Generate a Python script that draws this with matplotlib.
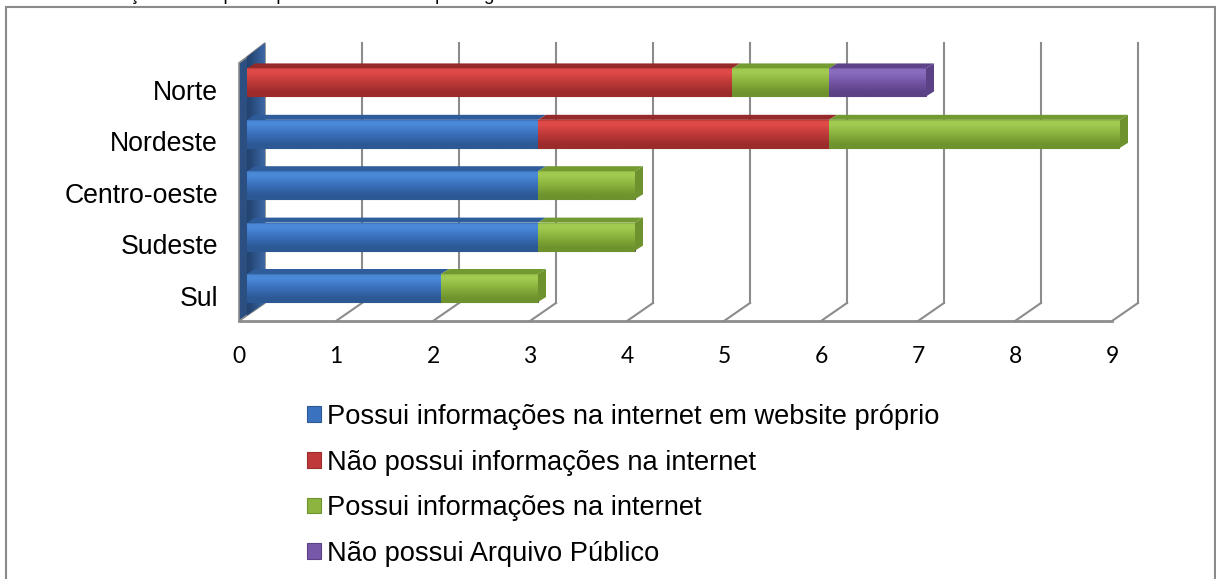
import numpy as np
import matplotlib
matplotlib.use('Agg')
import matplotlib.pyplot as plt
import matplotlib.transforms as mtransforms
from matplotlib.colors import LinearSegmentedColormap
from matplotlib.patches import Polygon, Rectangle

# dados (de baixo para cima)
regioes = ['Sul', 'Sudeste', 'Centro-oeste', 'Nordeste', 'Norte']
website_proprio = [2, 3, 3, 3, 0]
sem_informacoes = [0, 0, 0, 3, 5]
com_informacoes = [1, 1, 1, 3, 1]
sem_arquivo = [0, 0, 0, 0, 1]
series_nomes = ['Possui informações na internet em website próprio',
                'Não possui informações na internet',
                'Possui informações na internet',
                'Não possui Arquivo Público']
xticks = list(range(10))
titulo = 'Gráfico 1 - Situação dos arquivos públicos estaduais por região'

# cores: (base, escuro, medio, claro, topo)
cores = [
    ('#3b72bf', '#2c5894', '#3a71bd', '#4a8ad9', '#2f5d9c'),
    ('#c0393a', '#9c2c2c', '#c03a39', '#e04b49', '#962a2a'),
    ('#8cb43f', '#6e922d', '#8ab33d', '#a2cb52', '#729a30'),
    ('#7657a8', '#5b4186', '#7556a6', '#8b6dc0', '#5d4489'),
]

W, H = 1216, 579
fig = plt.figure(figsize=(W / 100, H / 100), dpi=100)
ax = fig.add_axes([247 / W, 1 - 321 / H, 873 / W, 278 / H])

YMIN, YMAX = -0.642, 4.767
BAR_H = 0.545
DDX, DDY = 8 / 97.0, 5 / 51.4      # profundidade das barras
FX, BX = -8 / 97.0, 18 / 97.0       # frente / fundo
Y_BACK = 18 / 278.0
Y_WALL = 1 - 20 / 278.0
GRID = '#8c8c8c'
FONTE = 19.2

trans = mtransforms.blended_transform_factory(ax.transData, ax.transAxes)

# parede lateral
parede = Polygon([(FX, 0), (FX, Y_WALL), (BX, 1.0), (BX, Y_BACK)], closed=True,
                 transform=trans, facecolor='#2b4f80', edgecolor='#8a8a8a',
                 lw=1.2, zorder=1, clip_on=False)
ax.add_patch(parede)
gw = np.linspace(0, 1, 64).reshape(1, -1)
cm_wall = LinearSegmentedColormap.from_list('w', ['#1e375c', '#274a7a', '#3d69a6'])
im = ax.imshow(gw, extent=[FX, BX, YMIN, YMAX], cmap=cm_wall, aspect='auto',
               origin='lower', zorder=1.1, interpolation='bicubic')
im.set_clip_path(parede)

# grade do fundo e chao
for i in xticks[1:]:
    ax.plot([i + BX, i + BX], [Y_BACK, 1.0], transform=trans, color=GRID, lw=1.5,
            zorder=0.5, clip_on=False)
    ax.plot([i + FX, i + BX], [0, Y_BACK], transform=trans, color=GRID, lw=1.5,
            zorder=0.5, clip_on=False)
ax.plot([FX, 9 + FX], [0, 0], transform=trans, color=GRID, lw=2, zorder=0.6, clip_on=False)

# barras empilhadas
y = np.arange(len(regioes))
valores = [website_proprio, sem_informacoes, com_informacoes, sem_arquivo]
esquerda = np.zeros(len(regioes))
grad = np.linspace(0, 1, 64).reshape(-1, 1)
ultima_cor = [None] * len(regioes)
for vals, nome, c in zip(valores, series_nomes, cores):
    vals = np.array(vals, dtype=float)
    cmap = LinearSegmentedColormap.from_list(
        nome, [(0, c[1]), (0.12, c[1]), (0.5, c[2]), (0.82, c[3]), (0.93, c[3]), (1, c[4])])
    barras = ax.barh(y, vals, left=esquerda, height=BAR_H, color=c[0],
                     edgecolor=c[1], linewidth=0.8, label=nome, zorder=3)
    for k, p in enumerate(barras.patches):
        if vals[k] <= 0:
            continue
        x0, x1 = esquerda[k], esquerda[k] + vals[k]
        y0, y1 = y[k] - BAR_H / 2, y[k] + BAR_H / 2
        g = ax.imshow(grad, extent=[x0, x1, y0, y1], cmap=cmap, aspect='auto',
                      origin='lower', zorder=3.2, interpolation='bicubic')
        g.set_clip_path(p)
        topo = Polygon([(x0, y1), (x1, y1), (x1 + DDX, y1 + DDY), (x0 + DDX, y1 + DDY)],
                       closed=True, facecolor=c[4], edgecolor='none', zorder=3.1, clip_on=False)
        ax.add_patch(topo)
        ultima_cor[k] = c
    esquerda = esquerda + vals

# tampas laterais
for k, total in enumerate(esquerda):
    if total <= 0:
        continue
    c = ultima_cor[k]
    y0, y1 = y[k] - BAR_H / 2, y[k] + BAR_H / 2
    tampa = Polygon([(total, y0), (total + DDX, y0 + DDY), (total + DDX, y1 + DDY), (total, y1)],
                    closed=True, facecolor=c[1], edgecolor='none', zorder=3.1, clip_on=False)
    ax.add_patch(tampa)

ax.set_xlim(0, 9)
ax.set_ylim(YMIN, YMAX)
for s in ax.spines.values():
    s.set_visible(False)

ax.set_xticks(xticks)
ax.set_xticklabels([str(t) for t in xticks], fontfamily='Lato', fontsize=16.5)
ax.tick_params(axis='x', length=0, pad=18)
desloc = mtransforms.ScaledTranslation(-0.08, 0, fig.dpi_scale_trans)
for lbl in ax.get_xticklabels():
    lbl.set_transform(lbl.get_transform() + desloc)

ax.set_yticks(y)
ax.set_yticklabels(regioes, fontfamily='Liberation Sans', fontsize=FONTE)
ax.tick_params(axis='y', length=0, pad=21)
desloc_y = mtransforms.ScaledTranslation(0, -0.075, fig.dpi_scale_trans)
for lbl in ax.get_yticklabels():
    lbl.set_transform(lbl.get_transform() + desloc_y)

# legenda
fig.legend(loc='upper left', bbox_to_anchor=(307 / W, 1 - 404 / H), frameon=False,
           prop={'family': 'Liberation Sans', 'size': 19.6},
           handlelength=0.52, handleheight=0.52, handletextpad=0.2,
           labelspacing=0.72, borderpad=0, borderaxespad=0)

# moldura e titulo cortado
fig.patches.append(Rectangle((6 / W, -0.1), 1209 / W, 1.1 - 7 / H, transform=fig.transFigure,
                             fill=False, edgecolor='#8a8a8a', lw=1.5))
fig.text(-6 / W, 1.0, titulo, fontfamily='Liberation Sans', fontsize=13.5,
         va='baseline', ha='left')

fig.savefig('out.png', dpi=100)
